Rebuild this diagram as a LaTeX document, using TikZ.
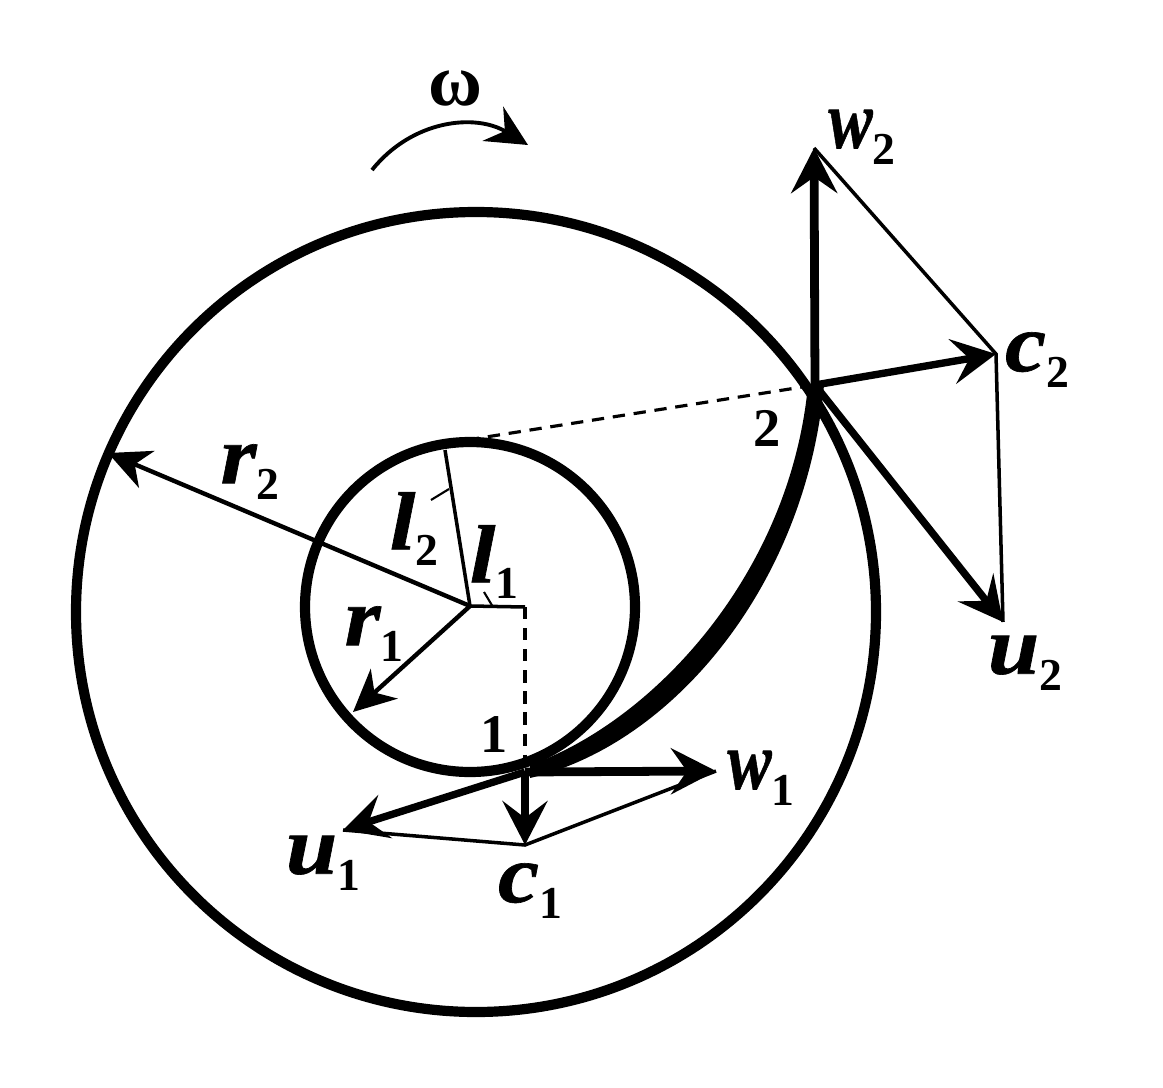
\documentclass[tikz,border=0pt]{standalone}
\usepackage{fontspec}
\usepackage{graphicx}
\setmainfont{Liberation Serif}[BoldItalicFeatures={FakeBold=0.8,FakeStretch=1.12}]
\usetikzlibrary{arrows.meta}
\newcommand{\lab}[2]{\fontsize{47}{47}\selectfont\bfseries\itshape #1\raisebox{-0.2em}{\fontsize{26}{26}\selectfont\upshape #2}}
\newcommand{\narrow}[1]{\scalebox{0.72}[1]{#1}}

\begin{document}
\begin{tikzpicture}[
    x=0.02cm,y=-0.02cm,
    wheel/.style={line width=5.8pt},
    bigarr/.style={line width=5pt,-{Stealth[length=0.9cm,width=0.92cm,inset=0.32cm]}},
    midarr/.style={line width=4.2pt,-{Stealth[length=0.88cm,width=0.9cm,inset=0.34cm]}},
    radarr/.style={line width=2.5pt,-{Stealth[length=0.84cm,width=0.8cm,inset=0.26cm]}},
    thin line/.style={line width=2pt},
    dash line/.style={line width=1.8pt,dash pattern=on 7pt off 5pt},
    lbl/.style={inner sep=0pt},
    num/.style={inner sep=0pt,font=\fontsize{31}{31}\selectfont\bfseries}
    ]
    \useasboundingbox (0,0) rectangle (1163,1088);
    % points of the triangles
    \coordinate (O) at (470,606);
    \coordinate (A) at (525,772);
    \coordinate (B) at (815,385);
    \coordinate (wa) at (716,771);
    \coordinate (ua) at (343,830);
    \coordinate (ca) at (525,845);
    \coordinate (wb) at (814,148);
    \coordinate (cb) at (996,354);
    \coordinate (ub) at (1003,622);
    \coordinate (ra) at (353,712);
    \coordinate (rb) at (108,453);
    \coordinate (top) at (467,440);
    \coordinate (la) at (525,607);
    \coordinate (lb) at (445,450);
    % wheel
    \draw[wheel] (476,612) circle (400);
    \draw[wheel] (470,607) circle (165);
    % blade
    \fill (530,765) .. controls (652,722) and (790,575) .. (808,385) -- (824,385)
      .. controls (806,585) and (672,745) .. (530,778) -- cycle;
    % radii
    \draw[radarr] (O) -- (rb);
    \draw[radarr] (O) -- (ra);
    \draw[thin line] (O) -- (lb);
    \draw[thin line] (O) -- (la);
    \draw[line width=1.2pt] (484,592) -- (493,607);
    \draw[line width=1.2pt] (431,500) -- (449,489);
    \draw[dash line] (top) -- (B);
    \draw[dash line] (la) -- (A);
    % triangles
    \draw[thin line] (wb) -- (cb) -- (ub);
    \draw[thin line] (ua) -- (ca) -- (wa);
    \draw[bigarr] (A) -- (wa);
    \draw[midarr] (A) -- (ua);
    \draw[midarr] (A) -- (ca);
    \draw[bigarr] (B) -- (wb);
    \draw[midarr] (B) -- (cb);
    \draw[midarr] (B) -- (ub);
    % rotation
    \coordinate (sa) at (372,170);
    \coordinate (sb) at (528,145);
    \draw[line width=2.2pt,-{Stealth[length=0.82cm,width=0.8cm,inset=0.28cm]}] (sa) .. controls (412,120) and (475,113) .. (sb);
    % labels
    \node (omega) [lbl] at (455,88) {\fontsize{42}{42}\selectfont\bfseries ω};
    \node (rtwo) [lbl] at (250,472) {\lab{r}{2}};
    \node (ltwo) [lbl] at (414,529) {\lab{l}{2}};
    \node (lone) [lbl] at (494,562) {\lab{l}{1}};
    \node (rone) [lbl] at (374,634) {\lab{r}{1}};
    \node (wone) [lbl] at (761,778) {\lab{\narrow{w}}{1}};
    \node (uone) [lbl] at (323,863) {\lab{u}{1}};
    \node (cone) [lbl] at (530,891) {\lab{c}{1}};
    \node (wtwo) [lbl] at (862,137) {\lab{\narrow{w}}{2}};
    \node (ctwo) [lbl] at (1037,360) {\lab{c}{2}};
    \node (utwo) [lbl] at (1025,663) {\lab{u}{2}};
    \node (ptone) [num] at (494,735) {1};
    \node (pttwo) [num] at (767,428) {2};
  \end{tikzpicture}
\end{document}
